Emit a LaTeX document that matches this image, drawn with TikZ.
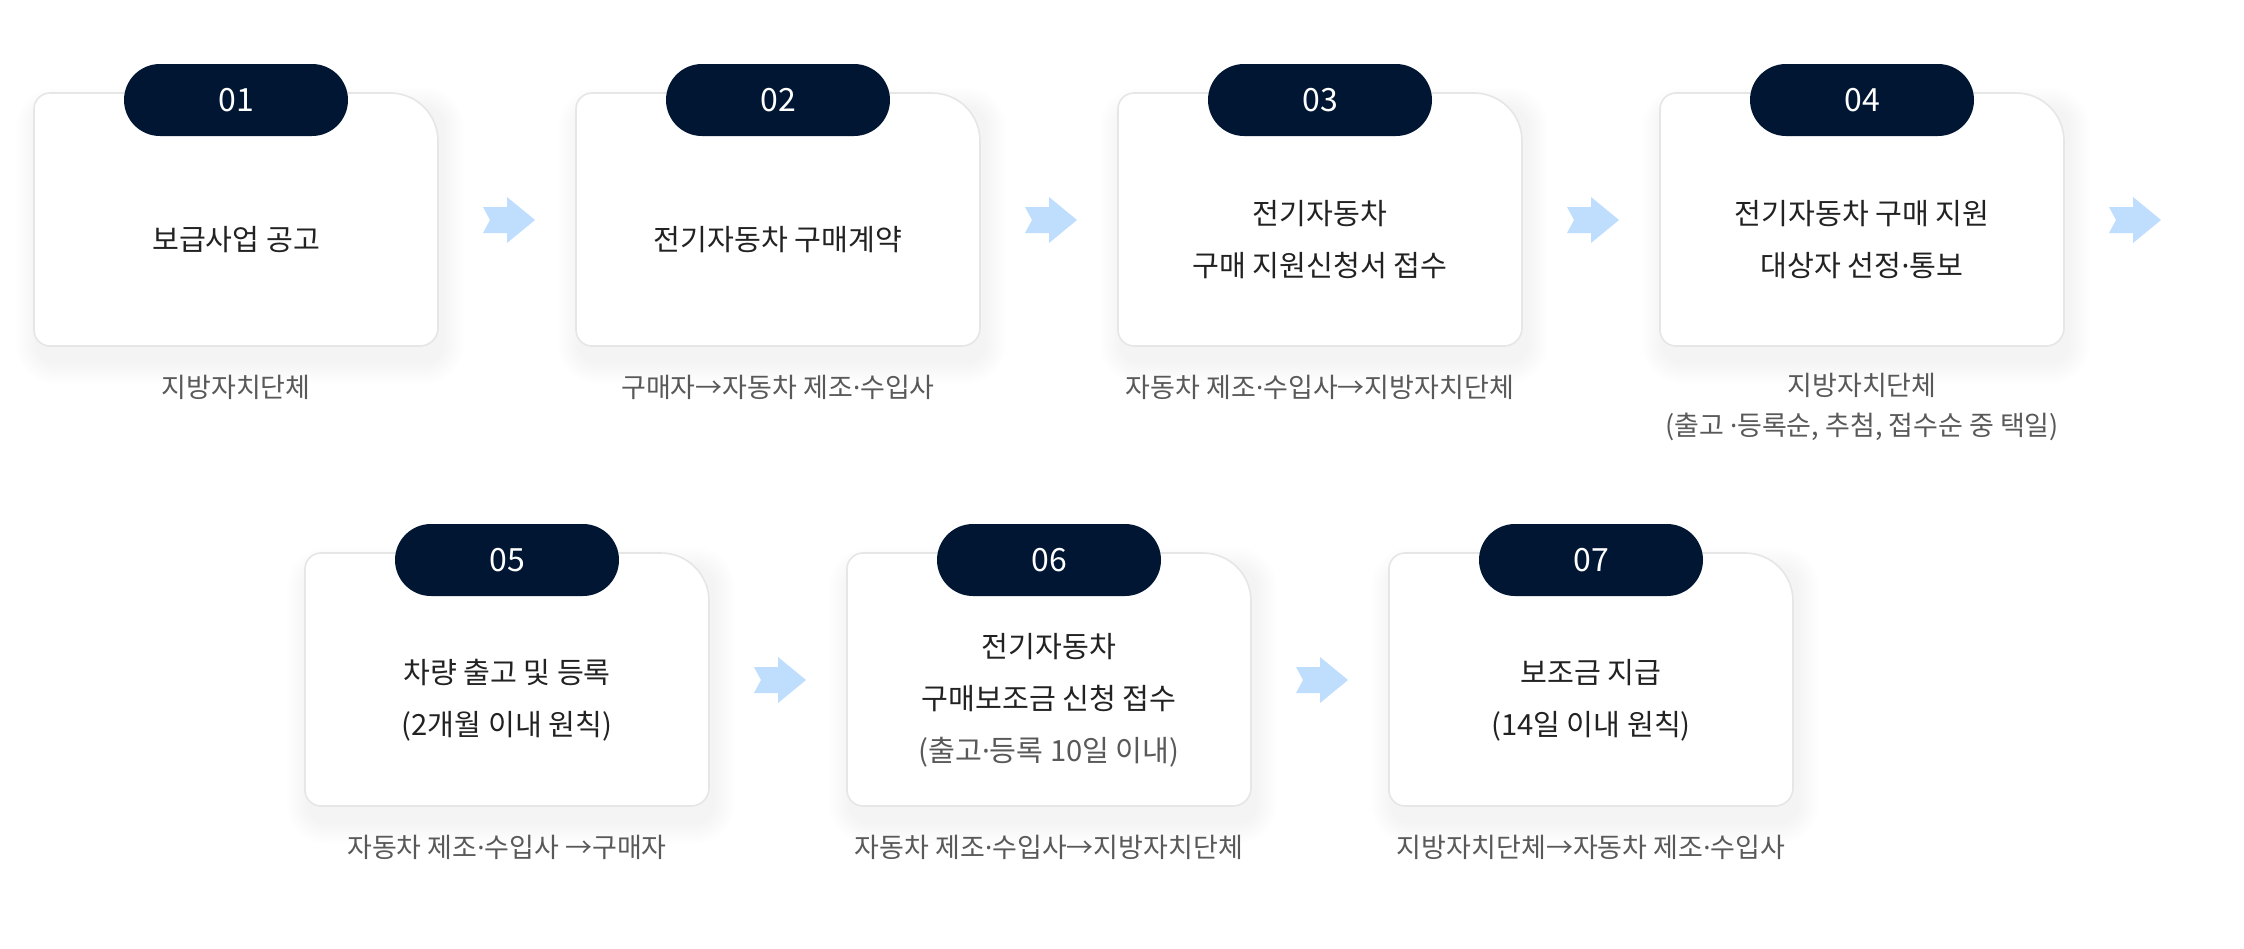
\documentclass[tikz,border=0pt]{standalone}
\usepackage{fontspec}
\setmainfont{Noto Sans CJK KR}
\newfontfamily\latinfont{Noto Sans}
\newcommand\mdot{{\latinfont ·}}
\definecolor{navy}{HTML}{011633}
\definecolor{maintxt}{HTML}{222222}
\definecolor{subtxt}{HTML}{595959}
\definecolor{cardline}{HTML}{E6E6E6}
\definecolor{arrowblue}{HTML}{BFDEFD}
\tikzset{
  cardbox/.style={fill=white, draw=cardline, line width=0.8pt},
  badgebox/.style={fill=navy, text=white, rounded corners=18pt, minimum width=112pt, minimum height=36pt, inner sep=0pt, font=\fontsize{16}{16}\selectfont},
  maintext/.style={text=maintxt, align=center, inner sep=0pt, font=\fontsize{14.6}{26}\selectfont},
  subtext/.style={text=subtxt, align=center, inner sep=0pt, font=\fontsize{13.5}{20}\selectfont},
  chevron/.style={fill=arrowblue}
}
% #1 x0, #2 y0, #3 number, #4 main text, #5 subtitle, #6 name, #7 subtitle y
\newcommand\stepcard[7]{%
  \begin{scope}[shift={(#1,#2)}]
    \foreach \k in {1,...,11}{
      \pgfmathsetmacro\rr{9+\k}
      \fill[black, opacity=0.0055, rounded corners=\rr pt]
        ({4-2*\k},{16-2*\k}) rectangle ({408+2*\k},{269+2*\k});
    }
    \filldraw[cardbox] (0,16) -- (0,237) .. controls (0,245.84) and (7.16,253) .. (16,253)
      -- (386,253) .. controls (395.94,253) and (404,244.94) .. (404,235)
      -- (404,48) .. controls (404,21.49) and (382.51,0) .. (356,0)
      -- (16,0) .. controls (7.16,0) and (0,7.16) .. (0,16) -- cycle;
    \node[badgebox] (#6b) at (202,7) {#3};
    \node[maintext] (#6m) at (202,147) {#4};
    \node[subtext] (#6s) at (202,#7) {#5};
  \end{scope}}
\newcommand\stepchevron[2]{%
  \fill[chevron] (#1,#2) ++(0,-13) -- ++(24,0) -- ++(0,-10) -- ++(28,23) -- ++(-28,23)
    -- ++(0,-10) -- ++(-24,0) -- ++(7,-13) -- cycle;}
\begin{document}
\begin{tikzpicture}[x=0.5pt, y=-0.5pt]
  \useasboundingbox (0,0) rectangle (2244,948);
  \fill[white] (0,0) rectangle (2244,948);
  % row 1
  \stepcard{34}{93}{01}{보급사업 공고}{지방자치단체}{c1}{294}
  \stepcard{576}{93}{02}{전기자동차 구매계약}{구매자→자동차 제조\mdot 수입사}{c2}{294}
  \stepcard{1118}{93}{03}{전기자동차\\구매 지원신청서 접수}{자동차 제조\mdot 수입사→지방자치단체}{c3}{294}
  \stepcard{1660}{93}{04}{전기자동차 구매 지원\\대상자 선정\mdot 통보}{지방자치단체\\(출고 \mdot 등록순, 추첨, 접수순 중 택일)}{c4}{314}
  \stepchevron{483}{220}
  \stepchevron{1025}{220}
  \stepchevron{1567}{220}
  \stepchevron{2109}{220}
  % row 2
  \stepcard{305}{553}{05}{차량 출고 및 등록\\(2개월 이내 원칙)}{자동차 제조\mdot 수입사 →구매자}{c5}{294}
  \stepcard{847}{553}{06}{전기자동차\\구매보조금 신청 접수\\{\color{subtxt}(출고\mdot 등록 10일 이내)}}{자동차 제조\mdot 수입사→지방자치단체}{c6}{294}
  \stepcard{1389}{553}{07}{보조금 지급\\(14일 이내 원칙)}{지방자치단체→자동차 제조\mdot 수입사}{c7}{294}
  \stepchevron{754}{680}
  \stepchevron{1296}{680}
\end{tikzpicture}
\end{document}
